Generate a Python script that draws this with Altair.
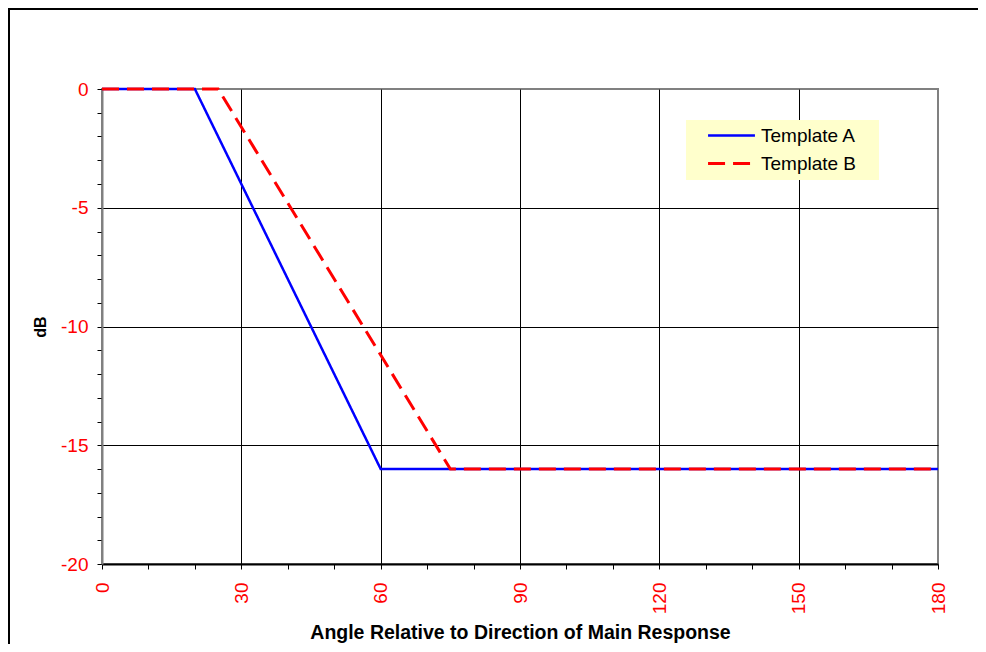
import altair as alt
import pandas as pd

series_names = ["Template A", "Template B"]
angle_a = [0, 20, 60, 180]
db_a = [0, 0, -16, -16]
angle_b = [0, 25, 75, 180]
db_b = [0, 0, -16, -16]
x_ticks = list(range(0, 181, 10))
y_ticks = list(range(-20, 1, 1))
line_colors = ["#0000FF", "#FF0000"]
line_dashes = [[1, 0], [17, 8]]
line_widths = [2.5, 3]

rows = []
for name, xs, ys in [(series_names[0], angle_a, db_a), (series_names[1], angle_b, db_b)]:
    for i, (a, d) in enumerate(zip(xs, ys)):
        rows.append({"series": name, "angle": a, "db": d, "order": i})
df = pd.DataFrame(rows)

FONT = "Liberation Sans"

x_axis = alt.Axis(
    values=x_ticks,
    labelExpr="datum.value % 30 === 0 ? '' + datum.value : ''",
    labelAngle=270,
    labelColor="#FF0000",
    labelFont=FONT,
    labelFontSize=19,
    labelPadding=13,
    tickSize=5,
    tickColor="black",
    domainColor="black",
    domainWidth=2,
    grid=True,
    gridColor="black",
    gridWidth=1,
    gridOpacity={"condition": {"test": "datum.value % 30 === 0 && datum.value > 0 && datum.value < 180", "value": 1}, "value": 0},
    title="Angle Relative to Direction of Main Response",
    titleFont=FONT,
    titleFontSize=19.5,
    titleFontWeight="bold",
    titleColor="black",
    titleBaseline="alphabetic",
    titleY=74,
)

y_axis = alt.Axis(
    values=y_ticks,
    labelExpr="datum.value % 5 === 0 ? '' + datum.value : ''",
    labelColor="#FF0000",
    labelFont=FONT,
    labelFontSize=19,
    labelPadding=9,
    tickSize=5,
    tickColor="black",
    domainColor="#808080",
    domainWidth=2,
    grid=True,
    gridColor="black",
    gridWidth=1,
    gridOpacity={"condition": {"test": "datum.value % 5 === 0 && datum.value < 0 && datum.value > -20", "value": 1}, "value": 0},
    title="dB",
    titleFont=FONT,
    titleFontSize=16,
    titleFontWeight="bold",
    titleColor="black",
    titleAngle=270,
    titleBaseline="alphabetic",
    titleAlign="center",
    titleX=-57,
    titleY=237.5,
)

legend = alt.Legend(
    orient="none",
    legendX=584,
    legendY=31,
    fillColor="#FFFFCC",
    padding=6,
    symbolType="M-5,0L5,0",
    symbolSize=88,
    symbolStrokeWidth=2.5,
    symbolOffset=30,
    labelOffset=20,
    labelFont=FONT,
    labelFontSize=19,
    labelColor="black",
    rowPadding=8,
    title="M",
    titleOrient="right",
    titleOpacity=0,
    titleFontSize=10,
    titlePadding=8,
)

lines = alt.Chart(df).mark_line().encode(
    x=alt.X("angle:Q", scale=alt.Scale(domain=[0, 180], nice=False), axis=x_axis),
    y=alt.Y("db:Q", scale=alt.Scale(domain=[-20, 0], nice=False), axis=y_axis),
    color=alt.Color("series:N", scale=alt.Scale(domain=series_names, range=line_colors), legend=legend),
    strokeDash=alt.StrokeDash("series:N", scale=alt.Scale(domain=series_names, range=line_dashes), legend=legend),
    strokeWidth=alt.StrokeWidth("series:N", scale=alt.Scale(domain=series_names, range=line_widths), legend=None),
    order="order:Q",
)

frame = alt.Chart(alt.Data(values=[{"k": 1}])).mark_rect(
    fillOpacity=0, stroke="black", strokeWidth=2
).encode(
    x=alt.value(-93), x2=alt.value(940), y=alt.value(-80), y2=alt.value(620)
)

chart = alt.layer(frame, lines).properties(
    width=836,
    height=475,
    autosize=alt.AutoSizeParams(type="none"),
    padding={"left": 94, "top": 81, "right": 40, "bottom": 80},
).configure_view(stroke="#808080", strokeWidth=2)

chart.save("out.html", embed_options={"renderer": "svg", "actions": False})
